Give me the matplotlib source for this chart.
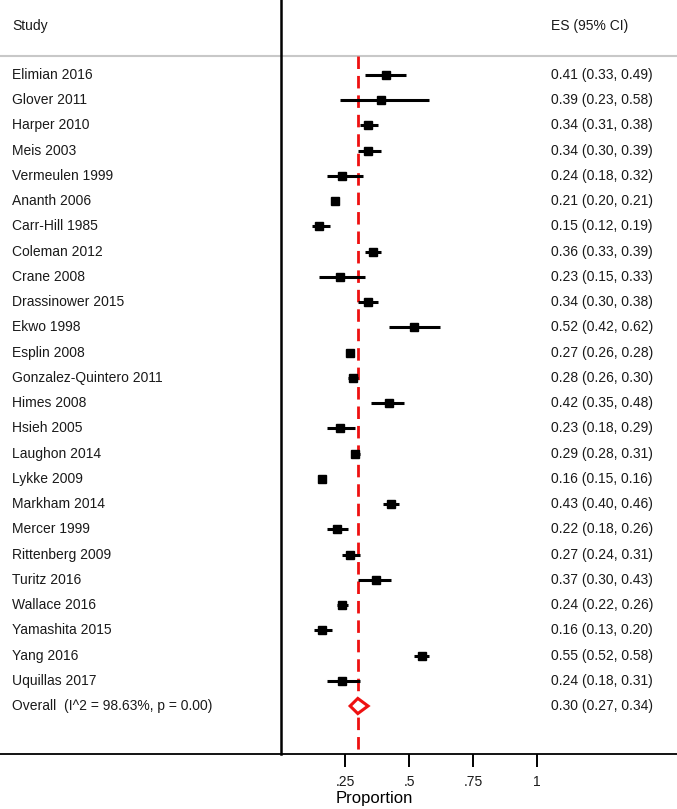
import numpy as np
import matplotlib
matplotlib.use("Agg")
import matplotlib.pyplot as plt
import matplotlib.transforms as mtransforms

plt.rcParams['font.family'] = ['Liberation Sans', 'DejaVu Sans']

# study-level estimates (proportion, 95% CI)
studies = ["Elimian 2016", "Glover 2011", "Harper 2010", "Meis 2003",
           "Vermeulen 1999", "Ananth 2006", "Carr-Hill 1985", "Coleman 2012",
           "Crane 2008", "Drassinower 2015", "Ekwo 1998", "Esplin 2008",
           "Gonzalez-Quintero 2011", "Himes 2008", "Hsieh 2005", "Laughon 2014",
           "Lykke 2009", "Markham 2014", "Mercer 1999", "Rittenberg 2009",
           "Turitz 2016", "Wallace 2016", "Yamashita 2015", "Yang 2016",
           "Uquillas 2017"]
es = [0.41, 0.39, 0.34, 0.34, 0.24, 0.21, 0.15, 0.36, 0.23, 0.34, 0.52, 0.27,
      0.28, 0.42, 0.23, 0.29, 0.16, 0.43, 0.22, 0.27, 0.37, 0.24, 0.16, 0.55,
      0.24]
lo = [0.33, 0.23, 0.31, 0.30, 0.18, 0.20, 0.12, 0.33, 0.15, 0.30, 0.42, 0.26,
      0.26, 0.35, 0.18, 0.28, 0.15, 0.40, 0.18, 0.24, 0.30, 0.22, 0.13, 0.52,
      0.18]
hi = [0.49, 0.58, 0.38, 0.39, 0.32, 0.21, 0.19, 0.39, 0.33, 0.38, 0.62, 0.28,
      0.30, 0.48, 0.29, 0.31, 0.16, 0.46, 0.26, 0.31, 0.43, 0.26, 0.20, 0.58,
      0.31]

overall_label = "Overall  (I^2 = 98.63%, p = 0.00)"
overall_es, overall_lo, overall_hi = 0.30, 0.27, 0.34

tick_vals = [0.25, 0.5, 0.75, 1]
tick_labels = [".25", ".5", ".75", "1"]

red = '#ee1111'
txt = '#1a1a1a'

fig = plt.figure(figsize=(6.77, 8.09), dpi=100)
ax = fig.add_axes([0, 55/809, 1, 754/809])

row_h = 25.24
ax.set_xlim(-281/256, 396/256)
ax.set_ylim((754 - 75)/row_h, -75/row_h)

trans = mtransforms.blended_transform_factory(ax.transAxes, ax.transData)

# header
head_y = (26 - 75)/row_h
ax.text(12/677, head_y, "Study", transform=trans, va='center', fontsize=10, color=txt)
ax.text(551/677, head_y, "ES (95% CI)", transform=trans, va='center', fontsize=10, color=txt)
ax.axhline((56 - 75)/row_h, color='#c8c8c8', lw=1.5, zorder=1)

# overall reference line
ax.plot([overall_es, overall_es], [(56 - 75)/row_h, (754 - 75)/row_h],
        color=red, lw=2.0, ls=(0, (4.5, 2.5)), zorder=2)

for i, name in enumerate(studies):
    ax.plot([lo[i], hi[i]], [i, i], color='k', lw=2.2, solid_capstyle='butt', zorder=3)
    ax.plot(es[i], i, marker='s', ms=6.3, color='k', zorder=4)
    ax.text(12/677, i, name, transform=trans, va='center', fontsize=10, color=txt)
    ax.text(551/677, i, "%.2f (%.2f, %.2f)" % (es[i], lo[i], hi[i]),
            transform=trans, va='center', fontsize=10, color=txt)

# overall diamond
k = len(studies)
dh = 0.3
ax.fill([overall_lo, overall_es, overall_hi, overall_es],
        [k, k - dh, k, k + dh], facecolor='white', edgecolor=red,
        lw=2.2, zorder=5)
ax.text(12/677, k, overall_label, transform=trans, va='center', fontsize=10, color=txt)
ax.text(551/677, k, "%.2f (%.2f, %.2f)" % (overall_es, overall_lo, overall_hi),
        transform=trans, va='center', fontsize=10, color=txt)

# axes
for s in ['top', 'right']:
    ax.spines[s].set_visible(False)
ax.spines['left'].set_position(('data', 0))
ax.spines['left'].set_linewidth(1.8)
ax.spines['bottom'].set_linewidth(1.3)
ax.set_yticks([])
ax.set_xticks(tick_vals)
ax.set_xticklabels(tick_labels, fontsize=10, color=txt)
ax.tick_params(axis='x', direction='out', length=9, width=1.4, pad=6)
ax.set_xlabel("Proportion", fontsize=12)
ax.xaxis.set_label_coords(374/677, -45/754)
ax.xaxis.label.set_va('center')

fig.savefig("out.png", dpi=100)
